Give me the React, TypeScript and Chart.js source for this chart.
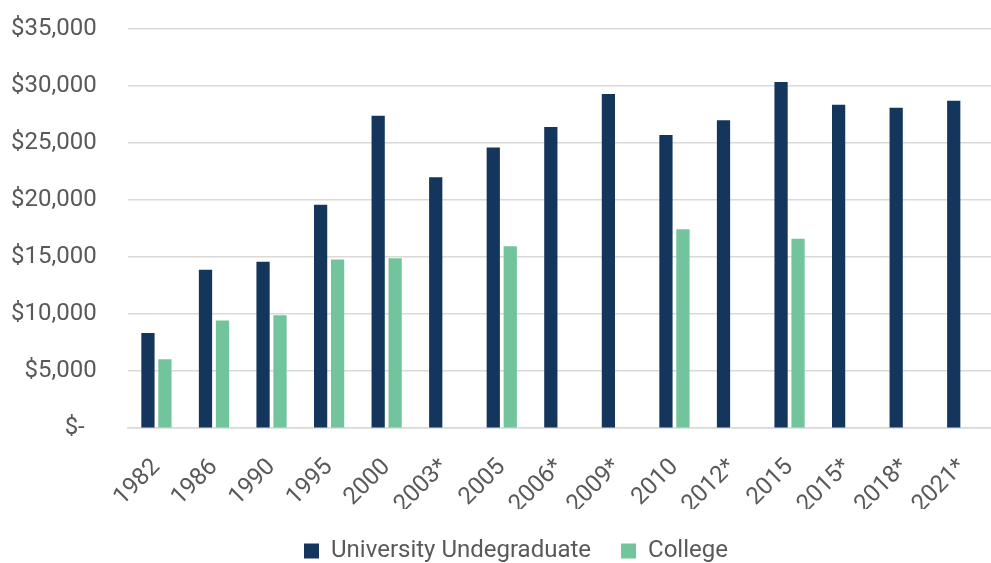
import React, { useEffect, useRef } from "react";
import { Chart, registerables } from "chart.js";

Chart.register(...registerables);

const categories = ["1982", "1986", "1990", "1995", "2000", "2003*", "2005", "2006*", "2009*", "2010", "2012*", "2015", "2015*", "2018*", "2021*"];
const universityValues = [8350, 13900, 14600, 19600, 27400, 22000, 24600, 26400, 29300, 25700, 27000, 30350, 28350, 28100, 28700];
const collegeValues = [6050, 9450, 9900, 14800, 14900, null, 15950, null, null, 17450, null, 16600, null, null, null];
const seriesNames = ["University Undegraduate", "College"];

const legendShift = {
  id: "legendShift",
  afterLayout(chart: any) {
    if (chart.legend) chart.legend.left += 30;
  },
};

export default function App() {
  const ref = useRef<HTMLCanvasElement | null>(null);
  useEffect(() => {
    if (!ref.current) return;
    const chart = new Chart(ref.current, {
      type: "bar",
      data: {
        labels: categories,
        datasets: [
          { label: seriesNames[0], data: universityValues, backgroundColor: "#14365D", borderWidth: 0 },
          { label: seriesNames[1], data: collegeValues, backgroundColor: "#72C49D", borderWidth: 0 },
        ],
      },
      plugins: [legendShift],
      options: {
        animation: false,
        responsive: false,
        maintainAspectRatio: false,
        layout: { padding: { top: 29, right: 0, left: 11, bottom: -10 } },
        datasets: { bar: { categoryPercentage: 0.59, barPercentage: 0.78 } },
        plugins: {
          tooltip: { enabled: false },
          legend: {
            position: "bottom",
            labels: {
              font: { family: "Roboto", size: 24 },
              color: "#595959",
              boxWidth: 15,
              boxHeight: 15,
              padding: 30,
            },
          },
        },
        scales: {
          x: {
            grid: { display: false, drawTicks: false },
            border: { color: "#D9D9D9", width: 1.5 },
            ticks: {
              font: { family: "Roboto", size: 24 },
              color: "#595959",
              maxRotation: 45,
              minRotation: 45,
              padding: 25,
              autoSkip: false,
            },
            afterFit: (s: any) => {
              s.height = s.height - 35;
              s.paddingRight = 0;
            },
          },
          y: {
            min: 0,
            max: 35000,
            grid: { color: "#D9D9D9", lineWidth: 1.5, drawTicks: true, tickLength: 31, tickColor: "rgba(0,0,0,0)" },
            border: { display: false },
            ticks: {
              stepSize: 5000,
              font: { family: "Roboto", size: 24 },
              color: "#595959",
              padding: 0,
              callback: (v: any) => (Number(v) === 0 ? "$-  " : "$" + Number(v).toLocaleString("en-US")),
            },
          },
        },
      },
    });
    return () => chart.destroy();
  }, []);
  return (
    <div style={{ position: "fixed", left: 0, top: 0, width: 991, height: 563, background: "#fff" }}>
      <canvas ref={ref} width={991} height={563} style={{ width: 991, height: 563 }} />
    </div>
  );
}
